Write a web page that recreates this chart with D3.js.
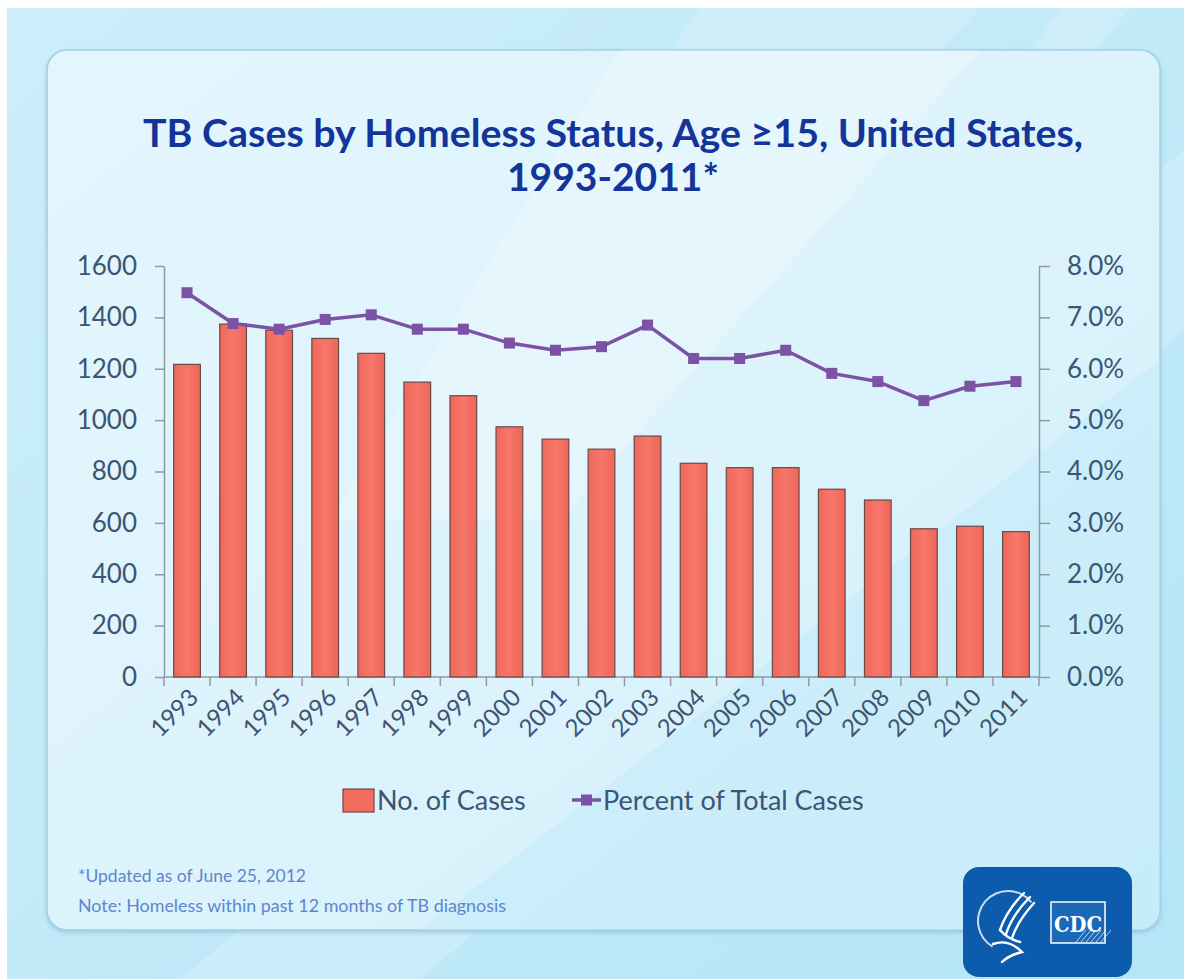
<!DOCTYPE html>
<html>
<head>
<meta charset="utf-8">
<script src="https://cdn.jsdelivr.net/npm/d3@7"></script>
<style>
  body { margin: 0; background: #fff; }
  svg { display: block; }
  .tick text { font-family: Lato, "Open Sans", sans-serif; fill: #3c5573; }
</style>
</head>
<body>
<svg id="chart" width="1184" height="979"></svg>
<script>
// chart data
const years = ['1993', '1994', '1995', '1996', '1997', '1998', '1999', '2000', '2001', '2002',
  '2003', '2004', '2005', '2006', '2007', '2008', '2009', '2010', '2011'];
const cases = [1217, 1374, 1350, 1318, 1260, 1148, 1095, 974, 926, 887,
  938, 832, 815, 815, 731, 689, 577, 587, 566];
const percents = [7.48, 6.88, 6.77, 6.96, 7.05, 6.77, 6.77, 6.50, 6.36, 6.43,
  6.85, 6.20, 6.20, 6.36, 5.91, 5.75, 5.38, 5.66, 5.75];
const caseTicks = [0, 200, 400, 600, 800, 1000, 1200, 1400, 1600];
const percentTicks = [0, 1, 2, 3, 4, 5, 6, 7, 8];
const legendLabels = ['No. of Cases', 'Percent of Total Cases'];
const titleLines = ['TB Cases by Homeless Status, Age \u226515, United States,', '1993-2011*'];
const notes = ['*Updated as of June 25, 2012', 'Note: Homeless within past 12 months of TB diagnosis'];

const barColor = '#f36d5f';
const lineColor = '#7b52a4';
const axisColor = '#8d9ba7';

const svg = d3.select('#chart');
const defs = svg.append('defs');

// ---- backdrop ----
const bg = defs.append('linearGradient').attr('id', 'bg')
  .attr('x1', 0).attr('y1', 0).attr('x2', 1).attr('y2', 1);
bg.append('stop').attr('offset', 0).attr('stop-color', '#cdeefa');
bg.append('stop').attr('offset', 0.6).attr('stop-color', '#bfe9f8');
bg.append('stop').attr('offset', 1).attr('stop-color', '#b5e5f7');

const panelGrad = defs.append('linearGradient').attr('id', 'panel')
  .attr('x1', 0).attr('y1', 0).attr('x2', 1).attr('y2', 1);
panelGrad.append('stop').attr('offset', 0).attr('stop-color', '#e4f6fd');
panelGrad.append('stop').attr('offset', 0.55).attr('stop-color', '#dcf3fc');
panelGrad.append('stop').attr('offset', 1).attr('stop-color', '#cdeefa');

const barGrad = defs.append('linearGradient').attr('id', 'barfill')
  .attr('x1', 0).attr('x2', 1).attr('y1', 0).attr('y2', 0);
barGrad.append('stop').attr('offset', 0).attr('stop-color', '#f0675a');
barGrad.append('stop').attr('offset', 0.5).attr('stop-color', '#f6776a');
barGrad.append('stop').attr('offset', 1).attr('stop-color', '#ee6558');

defs.append('filter').attr('id', 'shadow')
  .append('feDropShadow').attr('dx', 0).attr('dy', 2).attr('stdDeviation', 2)
  .attr('flood-color', '#5a8fb0').attr('flood-opacity', 0.35);

defs.append('clipPath').attr('id', 'panelClip')
  .append('rect').attr('x', 47).attr('y', 50).attr('width', 1113).attr('height', 880).attr('rx', 20);

svg.append('rect').attr('x', 7).attr('y', 8).attr('width', 1177).attr('height', 971).attr('fill', 'url(#bg)');

// light diagonal streaks outside the panel
const streaks = [
  [[180, 979], [420, 979], [1184, 330], [1184, 150]],
  [[700, 8], [980, 8], [620, 400], [430, 400]],
  [[1060, 8], [1130, 8], [900, 300], [860, 300]]
];
svg.append('g').selectAll('path').data(streaks).join('path')
  .attr('d', d => 'M' + d.join('L') + 'Z')
  .attr('fill', '#ffffff').attr('opacity', 0.18);

// panel
svg.append('rect').attr('x', 47).attr('y', 50).attr('width', 1113).attr('height', 880).attr('rx', 20)
  .attr('fill', 'url(#panel)').attr('stroke', '#a3cfe2').attr('stroke-width', 1.5)
  .attr('filter', 'url(#shadow)');

const panelStreaks = [
  [[620, 50], [980, 50], [560, 520], [330, 520]],
  [[420, 930], [1160, 930], [1160, 360]]
];
svg.append('g').attr('clip-path', 'url(#panelClip)')
  .selectAll('path').data(panelStreaks).join('path')
  .attr('d', d => 'M' + d.join('L') + 'Z')
  .attr('fill', (d, i) => i === 0 ? '#ffffff' : '#bfe8f8')
  .attr('opacity', (d, i) => i === 0 ? 0.22 : 0.45);

// ---- title ----
svg.append('g').selectAll('text').data(titleLines).join('text')
  .attr('x', 613).attr('y', (d, i) => 147 + i * 44)
  .attr('text-anchor', 'middle')
  .attr('font-family', 'Lato, "Open Sans", sans-serif')
  .attr('font-weight', 700).attr('font-size', 39)
  .attr('fill', '#13359a')
  .attr('textLength', (d, i) => i === 0 ? 940 : null)
  .attr('lengthAdjust', 'spacingAndGlyphs')
  .text(d => d);

// ---- scales ----
const plotL = 164, plotR = 1039, plotT = 266, plotB = 677;
const x = d3.scaleBand().domain(years).range([plotL, plotR]).paddingInner(0.42).paddingOuter(0.21);
const yCases = d3.scaleLinear().domain([0, 1600]).range([plotB, plotT]);
const yPct = d3.scaleLinear().domain([0, 8]).range([plotB, plotT]);

// ---- axes ----
const axisL = svg.append('g').attr('transform', `translate(${plotL},0)`)
  .call(d3.axisLeft(yCases).tickValues(caseTicks).tickSize(9).tickPadding(18).tickSizeOuter(0)
    .tickFormat(d3.format('d')));
const axisR = svg.append('g').attr('transform', `translate(${plotR},0)`)
  .call(d3.axisRight(yPct).tickValues(percentTicks).tickSize(11).tickPadding(17).tickSizeOuter(0)
    .tickFormat(d => d.toFixed(1) + '%'));
[axisL, axisR].forEach(a => {
  a.selectAll('.domain, .tick line').attr('stroke', axisColor).attr('stroke-width', 1.5);
  a.selectAll('.tick text').attr('font-size', 26);
});

// category axis: ticks sit between bars
const step = x.step();
const xAxis = svg.append('g');
xAxis.append('line').attr('x1', plotL).attr('x2', plotR).attr('y1', plotB).attr('y2', plotB)
  .attr('stroke', axisColor).attr('stroke-width', 1.5);
xAxis.selectAll('line.tk').data(d3.range(years.length + 1)).join('line').attr('class', 'tk')
  .attr('x1', i => plotL + i * step).attr('x2', i => plotL + i * step)
  .attr('y1', plotB).attr('y2', plotB + 9)
  .attr('stroke', axisColor).attr('stroke-width', 1.5);
xAxis.selectAll('text').data(years).join('text')
  .attr('transform', d => `translate(${x(d) + x.bandwidth() / 2 + 7},${plotB + 16}) rotate(-45)`)
  .attr('text-anchor', 'end').attr('dy', '0.35em')
  .attr('font-family', 'Lato, "Open Sans", sans-serif').attr('font-size', 24)
  .attr('fill', '#3c5573')
  .text(d => d);

// ---- bars ----
svg.append('g').selectAll('rect').data(years).join('rect')
  .attr('x', (d) => x(d))
  .attr('y', (d, i) => yCases(cases[i]))
  .attr('width', x.bandwidth())
  .attr('height', (d, i) => plotB - yCases(cases[i]))
  .attr('fill', 'url(#barfill)')
  .attr('stroke', '#6a4a46').attr('stroke-width', 1.2);

// ---- percent line ----
const pts = years.map((d, i) => [x(d) + x.bandwidth() / 2, yPct(percents[i])]);
svg.append('path').datum(pts)
  .attr('d', d3.line())
  .attr('fill', 'none').attr('stroke', lineColor).attr('stroke-width', 3.5)
  .attr('stroke-linejoin', 'round');
svg.append('g').selectAll('rect').data(pts).join('rect')
  .attr('x', d => d[0] - 5.5).attr('y', d => d[1] - 5.5)
  .attr('width', 11).attr('height', 11)
  .attr('fill', lineColor);

// ---- legend ----
const lg = svg.append('g').attr('font-family', 'Lato, "Open Sans", sans-serif')
  .attr('font-size', 27).attr('fill', '#3c5573');
lg.append('rect').attr('x', 343).attr('y', 789).attr('width', 31).attr('height', 23)
  .attr('fill', barColor).attr('stroke', '#6a4a46').attr('stroke-width', 1.2);
lg.append('text').attr('x', 377).attr('y', 810).text(legendLabels[0]);
lg.append('line').attr('x1', 572).attr('x2', 601).attr('y1', 800).attr('y2', 800)
  .attr('stroke', lineColor).attr('stroke-width', 3.5);
lg.append('rect').attr('x', 581).attr('y', 794.5).attr('width', 11).attr('height', 11).attr('fill', lineColor);
lg.append('text').attr('x', 603).attr('y', 810).text(legendLabels[1]);

// ---- footnotes ----
svg.append('g').selectAll('text').data(notes).join('text')
  .attr('x', 78).attr('y', (d, i) => 882 + i * 30)
  .attr('font-family', 'Lato, "Open Sans", sans-serif').attr('font-size', 17)
  .attr('fill', '#5d86cc')
  .attr('textLength', (d, i) => i === 0 ? 228 : 428)
  .attr('lengthAdjust', 'spacingAndGlyphs')
  .text(d => d);

// ---- CDC / HHS badge ----
const logo = svg.append('g');
logo.append('rect').attr('x', 963).attr('y', 867).attr('width', 169).attr('height', 110).attr('rx', 16)
  .attr('fill', '#0c5bac');
// seal ring
logo.append('path')
  .attr('d', d3.arc()({ innerRadius: 29, outerRadius: 31, startAngle: -2.6, endAngle: 0.9 }))
  .attr('transform', 'translate(1008,921)').attr('fill', '#ffffff').attr('opacity', 0.8);
// eagle strokes
const eagle = [
  'M1024,893 C1012,905 1004,918 1000,930',
  'M1030,897 C1018,909 1010,922 1006,934',
  'M1034,903 C1024,914 1016,926 1012,938',
  'M993,944 C1004,940 1014,944 1022,952 C1014,954 1006,958 1002,962',
  'M1000,930 C1006,937 1012,940 1020,942'
];
logo.selectAll('path.eg').data(eagle).join('path').attr('class', 'eg')
  .attr('d', d => d).attr('fill', 'none').attr('stroke', '#ffffff').attr('stroke-width', 2.4)
  .attr('stroke-linecap', 'round');
// CDC box
logo.append('rect').attr('x', 1051).attr('y', 902).attr('width', 54).attr('height', 41)
  .attr('fill', '#1a68b8').attr('stroke', '#ffffff').attr('stroke-width', 1.5);
logo.selectAll('line.st').data(d3.range(6)).join('line').attr('class', 'st')
  .attr('x1', i => 1076 + i * 5).attr('y1', 942).attr('x2', i => 1086 + i * 5).attr('y2', 930)
  .attr('stroke', '#ffffff').attr('stroke-width', 1).attr('opacity', 0.7);
logo.append('text').attr('x', 1078).attr('y', 932).attr('text-anchor', 'middle')
  .attr('font-family', '"DejaVu Serif", "Liberation Serif", serif').attr('font-weight', 700)
  .attr('font-size', 22).attr('fill', '#ffffff')
  .attr('textLength', 48).attr('lengthAdjust', 'spacingAndGlyphs')
  .text('CDC');
</script>
</body>
</html>
